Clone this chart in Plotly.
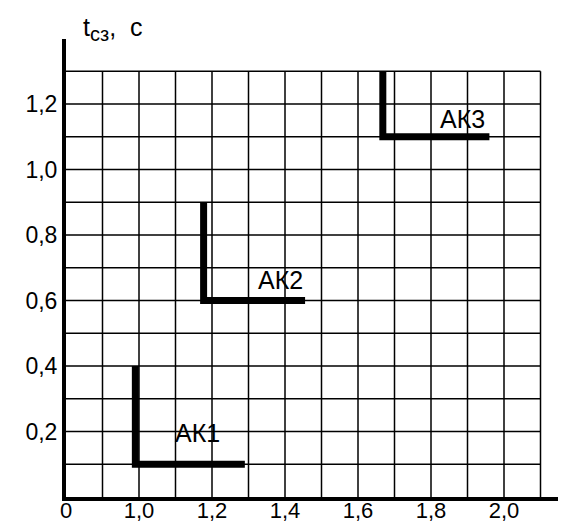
import plotly.graph_objects as go

# ---- data ----
ak_names = ["АК1", "АК2", "АК3"]
ak_x_vert = [0.99, 1.177, 1.668]      # position of the vertical part
ak_t_top = [0.4, 0.9, 1.3]            # top of vertical segment, s
ak_t_set = [0.1, 0.6, 1.1]            # time setting t_сз, s
ak_x_end = [1.29, 1.455, 1.96]        # end of horizontal segment

label_x = [1.16, 1.388, 1.886]
label_y = [0.195, 0.663, 1.154]

grid_x = [0.9, 1.0, 1.1, 1.2, 1.3, 1.4, 1.5, 1.6, 1.7, 1.8, 1.9, 2.0, 2.1]
grid_y = [0.1, 0.2, 0.3, 0.4, 0.5, 0.6, 0.7, 0.8, 0.9, 1.0, 1.1, 1.2, 1.3]

x_tickvals = [0.8, 1.0, 1.2, 1.4, 1.6, 1.8, 2.0]
x_ticktext = ["0", "1,0", "1,2", "1,4", "1,6", "1,8", "2,0"]
y_tickvals = [0.2, 0.4, 0.6, 0.8, 1.0, 1.2]
y_ticktext = ["0,2", "0,4", "0,6", "0,8", "1,0", "1,2"]

X_MIN, X_MAX = 0.8, 2.1
Y_MIN, Y_MAX = 0.0, 1.3

FONT = "Arial, Liberation Sans, sans-serif"

fig = go.Figure()

for name, xv, tt, ts, xe in zip(ak_names, ak_x_vert, ak_t_top, ak_t_set, ak_x_end):
    fig.add_trace(go.Scatter(
        x=[xv, xv, xe], y=[tt, ts, ts], mode="lines", name=name,
        line=dict(color="black", width=7), showlegend=False, hoverinfo="skip"))

shapes = []
for gx in grid_x:
    shapes.append(dict(type="line", xref="x", yref="y", x0=gx, x1=gx, y0=Y_MIN, y1=Y_MAX,
                       line=dict(color="black", width=1.5), layer="below"))
for gy in grid_y:
    shapes.append(dict(type="line", xref="x", yref="y", x0=X_MIN, x1=X_MAX, y0=gy, y1=gy,
                       line=dict(color="black", width=1.5), layer="below"))

annotations = []
for name, lx, ly in zip(ak_names, label_x, label_y):
    annotations.append(dict(x=lx, y=ly, xref="x", yref="y", text=name, showarrow=False,
                            font=dict(family=FONT, size=25, color="black"),
                            xanchor="center", yanchor="middle"))
annotations.append(dict(x=0.03, y=1.062, xref="paper", yref="paper",
                        text="t<sub><span style='font-size:20px'>сз</span></sub>,  с",
                        showarrow=False,
                        font=dict(family=FONT, size=25, color="black"),
                        xanchor="left", yanchor="top"))

# page body has an 8px margin: figure is shrunk and margins reduced accordingly
fig.update_layout(
    width=558, height=517,
    margin=dict(l=58, r=0, t=31, b=28),
    paper_bgcolor="white", plot_bgcolor="white",
    shapes=shapes, annotations=annotations,
    xaxis=dict(range=[0.8, 0.8 + 500 / 365], tickvals=x_tickvals, ticktext=x_ticktext,
               showgrid=False, zeroline=False, showline=True, linecolor="black", linewidth=4,
               ticks="", automargin=False, ticklabelstandoff=-9,
               tickfont=dict(family=FONT, size=22, color="black")),
    yaxis=dict(range=[0, 458 / 327.5], tickvals=y_tickvals, ticktext=y_ticktext,
               showgrid=False, zeroline=False, showline=True, linecolor="black", linewidth=4,
               ticks="", automargin=False,
               tickfont=dict(family=FONT, size=23, color="black")),
)

fig.write_html("out.html")
